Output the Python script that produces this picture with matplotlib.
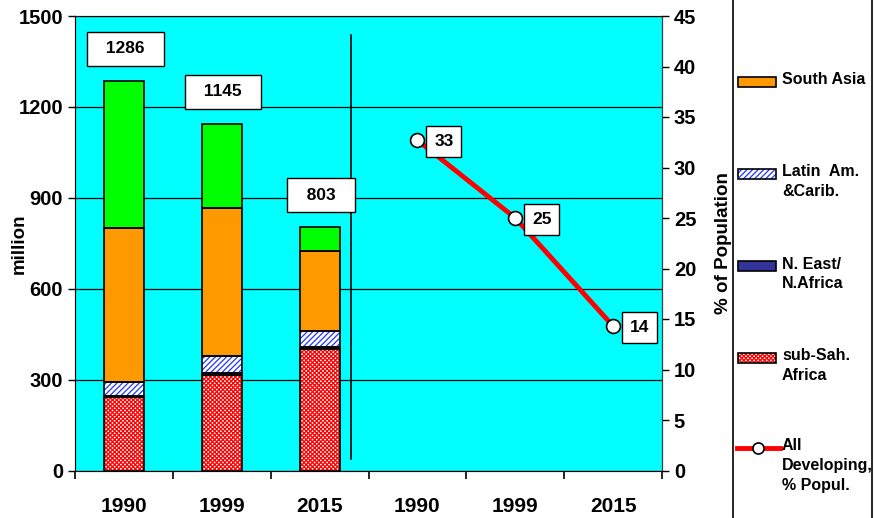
import matplotlib
matplotlib.use('Agg')
import matplotlib.pyplot as plt
import numpy as np
from matplotlib.patches import Rectangle
from matplotlib.lines import Line2D

plt.rcParams['font.family'] = ['Liberation Sans', 'DejaVu Sans']
plt.rcParams['font.weight'] = 'bold'
plt.rcParams['hatch.linewidth'] = 0.9

# data
years = ['1990', '1999', '2015']
xlabels = years + years
subsah = [242, 315, 400]
neast = [5, 6, 8]
latin = [44, 57, 51]
sasia = [510, 489, 264]
easia = [485, 278, 80]
pct_pop = [32.7, 25.0, 14.3]

legend_labels = ['South Asia', 'Latin  Am.\n&Carib.', 'N. East/\nN.Africa',
                 'sub-Sah.\nAfrica', 'All\nDeveloping,\n% Popul.']

W, H = 874, 518
fig = plt.figure(figsize=(W / 100, H / 100), dpi=100)
ax = fig.add_axes([75 / W, 1 - 470.5 / H, 587 / W, 454.5 / H])
ax.set_facecolor('#00FFFF')

xb = np.arange(len(years))
bw = 0.41
stack = [
    (subsah, dict(facecolor='white', edgecolor='#FF0000', hatch='xxxxxxxx')),
    (neast, dict(facecolor='#333399', edgecolor='#333399')),
    (latin, dict(facecolor='white', edgecolor='#2233FF', hatch='//////')),
    (sasia, dict(facecolor='#FF9900', edgecolor='#FF9900')),
    (easia, dict(facecolor='#00FF00', edgecolor='#00FF00')),
]
bottom = np.zeros(len(years))
for vals, st in stack:
    ax.bar(xb, vals, bw, bottom=bottom, lw=0, zorder=2, **st)
    ax.bar(xb, vals, bw, bottom=bottom, fill=False, edgecolor='black', lw=1.2, zorder=3)
    bottom = bottom + np.array(vals)

for x, tot in zip(xb, bottom):
    ax.annotate('  %d  ' % tot, (x, tot), xytext=(1, 23), textcoords='offset points',
                ha='center', va='center', fontsize=12.5, fontweight='bold', zorder=5,
                bbox=dict(boxstyle='square,pad=0.55', fc='white', ec='black', lw=1))

ax.set_xlim(-0.5, 5.5)
ax.set_ylim(0, 1500)
ax.set_yticks(range(0, 1501, 300))
ax.yaxis.grid(True, color='black', lw=0.9)
ax.set_axisbelow(True)
ax.set_xticks(range(6))
ax.set_xticklabels(xlabels, fontsize=15, fontweight='bold')
ax.set_xticks(np.arange(-0.5, 5.6, 1), minor=True)
ax.tick_params(axis='x', which='major', length=0, pad=19)
ax.tick_params(axis='x', which='minor', length=6, width=1.2, direction='out')
ax.tick_params(axis='y', labelsize=14.5, length=5, width=1, direction='out')
for lab in ax.get_yticklabels():
    lab.set_fontweight('bold')
ax.set_ylabel('million', fontsize=13.5, fontweight='bold')
ax.yaxis.set_label_coords(-0.08, 0.5)
ax.axvline(2.32, ymin=0.025, ymax=0.958, color='black', lw=1.2, zorder=4)
for s in ['top', 'bottom']:
    ax.spines[s].set_color('#808080')
ax.spines['left'].set_color('#404040')

ax2 = ax.twinx()
ax2.set_ylim(0, 45)
ax2.set_yticks(range(0, 46, 5))
ax2.tick_params(axis='y', labelsize=14.5, length=5, width=1, direction='out')
for lab in ax2.get_yticklabels():
    lab.set_fontweight('bold')
ax2.set_ylabel('% of Population', fontsize=13.5, fontweight='bold')
ax2.yaxis.set_label_coords(1.09, 0.5)
ax2.spines['right'].set_color('#404040')
xl = np.arange(3, 6)
ax2.plot(xl, pct_pop, color='#FF0000', lw=3.5, marker='o', ms=10,
         mfc='white', mec='black', mew=1.2, zorder=4)
for x, v in zip(xl, pct_pop):
    ax2.annotate('%d' % round(v), (x, v), xytext=(19, -1), textcoords='offset points',
                 ha='center', va='center', fontsize=12.5, fontweight='bold', zorder=5,
                 bbox=dict(boxstyle='square,pad=0.45', fc='white', ec='black', lw=1))

# legend panel drawn by hand at the right
fig.add_artist(Line2D([733 / W, 733 / W], [0, 1], color='black', lw=1.2))
fig.add_artist(Line2D([872 / W, 872 / W], [0, 1], color='black', lw=1.2))
handles = [stack[3][1], stack[2][1], stack[1][1], stack[0][1]]
ycen = [82, 174, 266, 358, 448]
for i, lab in enumerate(legend_labels):
    yc = ycen[i]
    if i < 4:
        st = handles[i]
        fig.add_artist(Rectangle((738 / W, 1 - (yc + 5) / H), 38 / W, 10 / H,
                                 transform=fig.transFigure, lw=0, **st))
        fig.add_artist(Rectangle((738 / W, 1 - (yc + 5) / H), 38 / W, 10 / H,
                                 transform=fig.transFigure, fill=False, ec='black', lw=1.2))
    else:
        fig.add_artist(Line2D([737 / W, 780 / W], [1 - yc / H] * 2, color='#FF0000', lw=3.5))
        fig.add_artist(Line2D([758 / W], [1 - yc / H], marker='o', ms=8, mfc='white',
                              mec='black', mew=1.2))
    fig.text(782 / W, 1 - (yc - 9.5) / H, lab, ha='left', va='top', fontsize=11.5,
             fontweight='bold', linespacing=1.4)

fig.savefig('out.png', dpi=100)
